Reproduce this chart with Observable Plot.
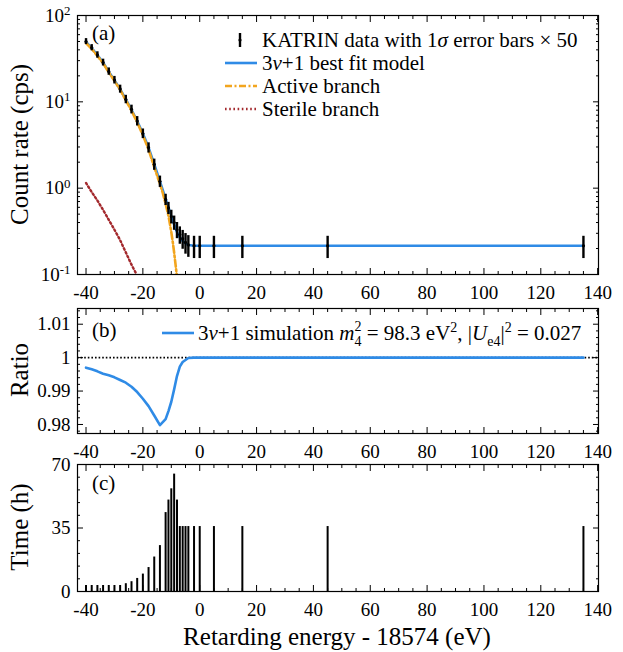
<!DOCTYPE html>
<html><head><meta charset="utf-8">
<script src="https://cdn.jsdelivr.net/npm/d3@7"></script>
<script src="https://cdn.jsdelivr.net/npm/@observablehq/plot@0.6"></script>
<style>
body{margin:0;background:#fff;}
#root{position:relative;width:623px;height:652px;background:#fff;}
#root svg{position:absolute;left:0;overflow:visible;font-family:"Liberation Serif","Tinos","Times New Roman","DejaVu Serif",serif !important;}
#root svg text{font-family:"Liberation Serif","Tinos","Times New Roman","DejaVu Serif",serif !important;}
</style></head><body><div id="root"></div>
<script>
// ---------- data ----------
const energies = [-40,-38,-36,-34,-32,-30,-28,-26,-24,-22,-20,-18,-16,-14,-12,-11,-10,-9,-8,-7,-6,-5,-4,-2,0,5,15,45,135];
const countRate = [50,42.5,35,28.6,22.5,17.9,14.1,10.7,8.2,6.0,4.3,2.95,1.89,1.2,0.74,0.59,0.47,0.40,0.33,0.29,0.26,0.235,0.22,0.215,0.215,0.215,0.215,0.215,0.215];
const countErr50 = [4.0,3.5,3.0,2.6,2.2,1.8,1.5,1.2,0.95,0.75,0.55,0.40,0.28,0.18,0.11,0.095,0.085,0.075,0.07,0.066,0.064,0.063,0.062,0.062,0.062,0.062,0.062,0.062,0.062];
const fitRate = [49.5,42,34.8,28.5,22.4,17.8,14,10.7,8.1,6.0,4.3,2.95,1.9,1.2,0.75,0.6,0.47,0.38,0.31,0.27,0.245,0.23,0.22,0.215,0.215,0.215,0.215,0.215,0.215];
const activeE = [-40,-38,-36,-34,-32,-30,-28,-26,-24,-22,-20,-18,-16,-14,-13,-12,-11,-10,-9.5,-9,-8.5,-8.1];
const activeRate = [48,41,34,28,22,17.5,13.8,10.4,7.9,5.8,4.1,2.8,1.75,1.12,0.88,0.66,0.48,0.31,0.24,0.18,0.13,0.1];
const sterileE = [-40,-38,-36,-34,-32,-30,-28,-26,-24,-22.2];
const sterileRate = [1.15,0.9,0.72,0.56,0.43,0.33,0.25,0.18,0.13,0.1];
const ratioVal = [0.9970,0.9965,0.9959,0.9952,0.9947,0.9941,0.9933,0.9925,0.9913,0.9897,0.9877,0.9855,0.9827,0.9798,0.9816,0.9840,0.9868,0.9905,0.9945,0.9973,0.9987,0.9993,0.9999,1,1,1,1,1,1];
const timeHours = [3.3,3.3,3.3,3.3,3.3,3.3,3.3,4.3,5.4,7.2,9.6,13.2,19,25.3,43.5,50.4,56.6,64.7,50.4,35.8,35.8,35.8,35.8,35.8,35.8,35.8,35.8,35.8,35.8];

const xDomain = [-43, 140.3];
const xMajor = [-40,-20,0,20,40,60,80,100,120,140];
const xMinor = d3.range(-40,141,5).filter(v => v % 20 !== 0);
const logMajor = [0.1,1,10,100];
const logMinor = [2,3,4,5,6,7,8,9].flatMap(m => [m*0.1, m, m*10]);
const ratioMajor = [0.98,0.99,1,1.01];
const ratioMinor = d3.range(0,19).map(i => +(0.978 + i*0.002).toFixed(3)).filter(v => !ratioMajor.includes(v));
const timeMajor = [0,35,70];
const timeMinor = [7,14,21,28,42,49,56,63];

// ---------- style ----------
const FONT = "Liberation Serif, Tinos, Times New Roman, DejaVu Serif, serif";
const BLUE = "#2f8be6", ORANGE = "#f2a51e", RED = "#a3292d";

const rows = energies.map((e,i) => ({e, r: countRate[i], err: countErr50[i], fit: fitRate[i], ratio: ratioVal[i], t: timeHours[i]}));
const active = activeE.map((e,i) => ({e, r: activeRate[i]}));
const sterile = sterileE.map((e,i) => ({e, r: sterileRate[i]}));

function axes(yMajor, yMinor, yFormat) {
  const blank = () => "";
  return [
    Plot.axisX({anchor:"bottom", ticks:xMajor, tickSize:-6, tickPadding:17, tickFormat:d => String(d), label:null}),
    Plot.axisX({anchor:"bottom", ticks:xMinor, tickSize:-3, tickFormat:blank, label:null}),
    Plot.axisX({anchor:"top", ticks:xMajor, tickSize:-6, tickFormat:blank, label:null}),
    Plot.axisX({anchor:"top", ticks:xMinor, tickSize:-3, tickFormat:blank, label:null}),
    Plot.axisY({anchor:"left", ticks:yMajor, tickSize:-6, tickPadding:13, tickFormat:yFormat, label:null}),
    Plot.axisY({anchor:"left", ticks:yMinor, tickSize:-3, tickFormat:blank, label:null}),
    Plot.axisY({anchor:"right", ticks:yMajor, tickSize:-6, tickFormat:blank, label:null}),
    Plot.axisY({anchor:"right", ticks:yMinor, tickSize:-3, tickFormat:blank, label:null}),
    Plot.frame({stroke:"black", strokeWidth:1.2})
  ];
}
const baseStyle = {fontFamily:FONT, fontSize:"19px", color:"black", background:"transparent", overflow:"visible"};

// ---------- panel (a) ----------
const plotA = Plot.plot({
  width:623, height:300, marginLeft:77, marginRight:25, marginTop:15, marginBottom:26,
  x:{domain:xDomain}, y:{type:"log", domain:[0.1,100]},
  style: baseStyle,
  marks:[
    Plot.line(rows, {x:"e", y:"fit", stroke:BLUE, strokeWidth:2.6}),
    Plot.line(active, {x:"e", y:"r", stroke:ORANGE, strokeWidth:2.6, strokeDasharray:"7,2.5,2,2.5", clip:true}),
    Plot.line(sterile, {x:"e", y:"r", stroke:RED, strokeWidth:2.4, strokeDasharray:"1.6,2.6", clip:true}),
    Plot.ruleX(rows, {x:"e", y1:d => d.r - d.err, y2:d => d.r + d.err, stroke:"black", strokeWidth:2.4}),
    Plot.dot(rows, {x:"e", y:"r", r:1.6, fill:"black"}),
    ...axes(logMajor, logMinor, d => "10^" + Math.round(Math.log10(d)))
  ]
});

// ---------- panel (b) ----------
const plotB = Plot.plot({
  width:623, height:155, marginLeft:77, marginRight:25, marginTop:8, marginBottom:22,
  x:{domain:xDomain}, y:{domain:[0.9773,1.0147]},
  style: baseStyle,
  marks:[
    Plot.ruleY([1], {stroke:"black", strokeWidth:1.6, strokeDasharray:"1.6,2"}),
    Plot.line(rows, {x:"e", y:"ratio", stroke:BLUE, strokeWidth:2.6}),
    ...axes(ratioMajor, ratioMinor, d => String(+d.toFixed(2)))
  ]
});

// ---------- panel (c) ----------
const plotC = Plot.plot({
  width:623, height:197, marginLeft:77, marginRight:25, marginTop:9, marginBottom:61,
  x:{domain:xDomain}, y:{domain:[0,70]},
  style: baseStyle,
  marks:[
    Plot.ruleX(rows, {x:"e", y1:0, y2:"t", stroke:"black", strokeWidth:2}),
    ...axes(timeMajor, timeMinor, d => String(d))
  ]
});

const root = document.getElementById("root");
[[plotA,0],[plotB,300],[plotC,455]].forEach(([p,top]) => { p.style.top = top + "px"; root.appendChild(p); });

// superscript exponents on the log axis
d3.select(plotA).selectAll("text").each(function() {
  const t = this.textContent;
  if (t.startsWith("10^")) {
    const ex = t.slice(3);
    this.textContent = "10";
    d3.select(this).append("tspan").attr("dy","-0.5em").attr("font-size","0.68em").text(ex);
  }
});

function txt(svg, x, y, size) {
  return d3.select(svg).append("text").attr("x",x).attr("y",y)
    .attr("text-anchor","start")
    .attr("font-family",FONT).attr("font-size",size).attr("fill","black");
}

// panel labels
txt(plotA, 92, 40, 21).text("(a)");
txt(plotB, 92, 37, 21).text("(b)");
txt(plotC, 92, 35, 21).text("(c)");

// y titles
[[plotA,144.5,"Count rate (cps)"],[plotB,70,"Ratio"],[plotC,72,"Time (h)"]].forEach(([p,cy,s]) => {
  d3.select(p).append("text").attr("transform",`translate(22,${cy}) rotate(-90)`)
    .attr("text-anchor","middle").attr("dominant-baseline","middle")
    .attr("font-family",FONT).attr("font-size",25).text(s);
});
// x title
txt(plotC, 337, 190, 25).attr("text-anchor","middle").text("Retarding energy - 18574 (eV)");

// legend (a)
const legA = d3.select(plotA);
const legRows = [40, 63, 86, 109];
legA.append("line").attr("x1",240).attr("x2",240).attr("y1",legRows[0]-7).attr("y2",legRows[0]+7).attr("stroke","black").attr("stroke-width",2.4);
legA.append("circle").attr("cx",240).attr("cy",legRows[0]).attr("r",1.6).attr("fill","black");
legA.append("line").attr("x1",225).attr("x2",257).attr("y1",legRows[1]).attr("y2",legRows[1]).attr("stroke",BLUE).attr("stroke-width",2.6);
legA.append("line").attr("x1",225).attr("x2",257).attr("y1",legRows[2]).attr("y2",legRows[2]).attr("stroke",ORANGE).attr("stroke-width",2.6).attr("stroke-dasharray","7,2.5,2,2.5");
legA.append("line").attr("x1",225).attr("x2",257).attr("y1",legRows[3]).attr("y2",legRows[3]).attr("stroke",RED).attr("stroke-width",2.4).attr("stroke-dasharray","1.6,2.6");
{
  const t = txt(plotA, 262, legRows[0]+7, 21);
  t.append("tspan").text("KATRIN data with 1");
  t.append("tspan").attr("font-style","italic").text("σ");
  t.append("tspan").text(" error bars × 50");
  const t2 = txt(plotA, 262, legRows[1]+7, 21);
  t2.append("tspan").text("3");
  t2.append("tspan").attr("font-style","italic").text("ν");
  t2.append("tspan").text("+1 best fit model");
  txt(plotA, 262, legRows[2]+7, 21).text("Active branch");
  txt(plotA, 262, legRows[3]+7, 21).text("Sterile branch");
}

// legend (b)
{
  const g = d3.select(plotB);
  g.append("line").attr("x1",162).attr("x2",194).attr("y1",33).attr("y2",33).attr("stroke",BLUE).attr("stroke-width",2.6);
  const t = txt(plotB, 198, 40, 21);
  t.append("tspan").text("3");
  t.append("tspan").attr("font-style","italic").text("ν");
  t.append("tspan").text("+1 simulation ");
  t.append("tspan").attr("font-style","italic").text("m");
  t.append("tspan").attr("font-size",14).attr("dy",6).text("4");
  t.append("tspan").attr("font-size",14).attr("dx",-7).attr("dy",-15).text("2");
  t.append("tspan").attr("dy",9).text(" = 98.3 eV");
  t.append("tspan").attr("font-size",14).attr("dy",-8).text("2");
  t.append("tspan").attr("dy",8).text(", |");
  t.append("tspan").attr("font-style","italic").text("U");
  t.append("tspan").attr("font-size",14).attr("dy",6).text("e4");
  t.append("tspan").attr("dy",-6).text("|");
  t.append("tspan").attr("font-size",14).attr("dy",-8).text("2");
  t.append("tspan").attr("dy",8).text(" = 0.027");
}
</script>
</body></html>
